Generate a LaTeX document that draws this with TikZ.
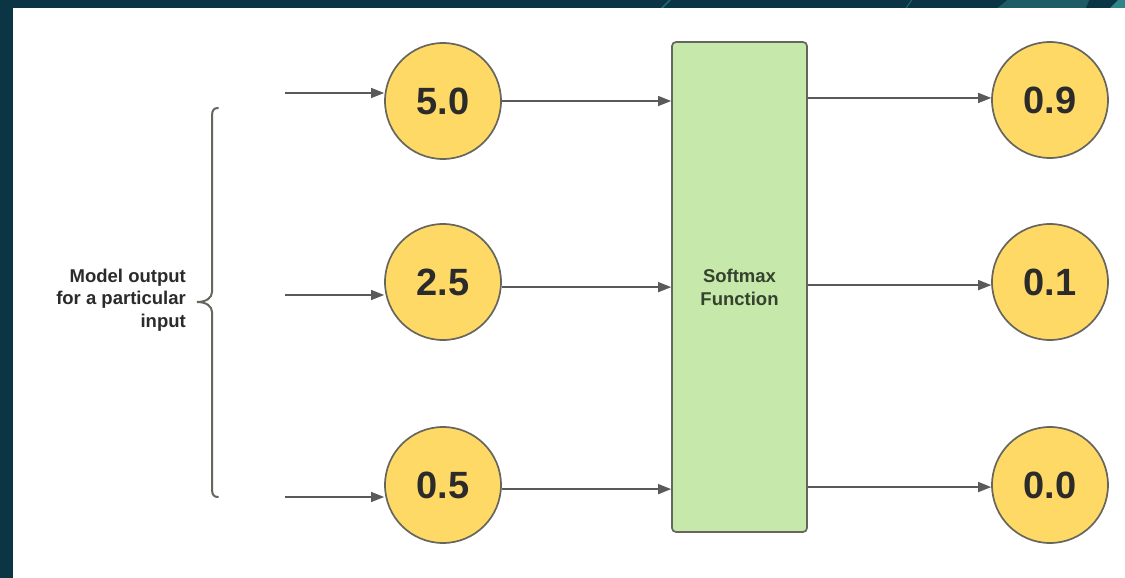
\documentclass[tikz,border=0pt]{standalone}
\usepackage{fontspec}
\setmainfont{Liberation Sans}
\usetikzlibrary{arrows.meta}
\definecolor{bgnavy}{HTML}{0B3444}
\definecolor{streak}{HTML}{3FA9A8}
\definecolor{circfill}{HTML}{FFD966}
\definecolor{boxfill}{HTML}{C6E8AA}
\definecolor{edgegray}{HTML}{66665E}
\definecolor{arrgray}{HTML}{5A5A5A}
\definecolor{txtdark}{HTML}{2B2B2B}
\definecolor{boxtxt}{HTML}{34422E}
\tikzset{
  valnode/.style={circle, draw=edgegray, line width=1.7pt, fill=circfill,
    minimum size=116pt, inner sep=0pt, font=\fontsize{38}{42}\selectfont\bfseries, text=txtdark},
  softbox/.style={rectangle, rounded corners=4pt, draw=edgegray, line width=1.7pt, fill=boxfill,
    minimum width=135pt, minimum height=490pt, inner sep=0pt, align=center,
    font=\fontsize{18.5}{23}\selectfont\bfseries, text=boxtxt},
  arr/.style={draw=arrgray, line width=1.3pt, -{Triangle[length=13pt,width=10pt]}},
  bracelbl/.style={align=right, anchor=east, inner sep=0pt,
    font=\fontsize{18.5}{22.5}\selectfont\bfseries, text=txtdark},
  bracestyle/.style={draw=edgegray, line width=2pt, line cap=round},
}
\begin{document}
\begin{tikzpicture}[x=1pt,y=-1pt]
\useasboundingbox (0,0) rectangle (1125,578);
% background
\fill[bgnavy] (0,0) rectangle (1125,578);
\begin{scope}
\clip (0,0) rectangle (1125,8);
\draw[streak, opacity=0.45, line width=1.5pt] (660,10) -- (672,-2);
\draw[streak, opacity=0.4, line width=1.2pt] (905,10) -- (913,-2);
\fill[streak, opacity=0.35] (995,10) -- (1010,-2) -- (1090,-2) -- (1085,10) -- cycle;
\fill[streak, opacity=0.7] (1108,10) -- (1120,-2) -- (1125,-2) -- (1125,10) -- cycle;
\end{scope}
\fill[white] (13,8) rectangle (1125,578);

% nodes
\node[valnode] (in1) at (443,101) {5.0};
\node[valnode] (in2) at (443,282) {2.5};
\node[valnode] (in3) at (443,485) {0.5};
\node[softbox] (box) at (739.5,287) {Softmax\\Function};
\node[valnode] (out1) at (1050,100) {0.9};
\node[valnode] (out2) at (1050,282) {0.1};
\node[valnode] (out3) at (1050,485) {0.0};

% free ends of the input arrows
\coordinate (s1) at (285,93);
\coordinate (s2) at (285,295);
\coordinate (s3) at (285,497);

% input arrows
\draw[arr] (s1) -- (s1 -| in1.west);
\draw[arr] (s2) -- (s2 -| in2.west);
\draw[arr] (s3) -- (s3 -| in3.west);

% circles to box
\draw[arr] (in1.east) -- (in1.east -| box.west);
\draw[arr] (in2.355) -- (in2.355 -| box.west);
\draw[arr] (in3.356) -- (in3.356 -| box.west);

% box to outputs
\draw[arr] (box.east |- out1.178) -- (out1.178);
\draw[arr] (box.east |- out2.183) -- (out2.183);
\draw[arr] (box.east |- out3.182) -- (out3.182);

% brace and its label
\coordinate (btop) at (218,108);
\coordinate (btip) at (197,302);
\coordinate (bbot) at (218,497);
\draw[bracestyle] (btop) .. controls (214,108) and (212,110) .. (212,116)
  -- (212,292) .. controls (212,298) and (206,302) .. (btip)
  .. controls (206,302) and (212,306) .. (212,312)
  -- (212,489) .. controls (212,495) and (214,497) .. (bbot);
\node[bracelbl] (lbl) at (186,300) {Model output\\for a particular\\input};
\end{tikzpicture}
\end{document}
